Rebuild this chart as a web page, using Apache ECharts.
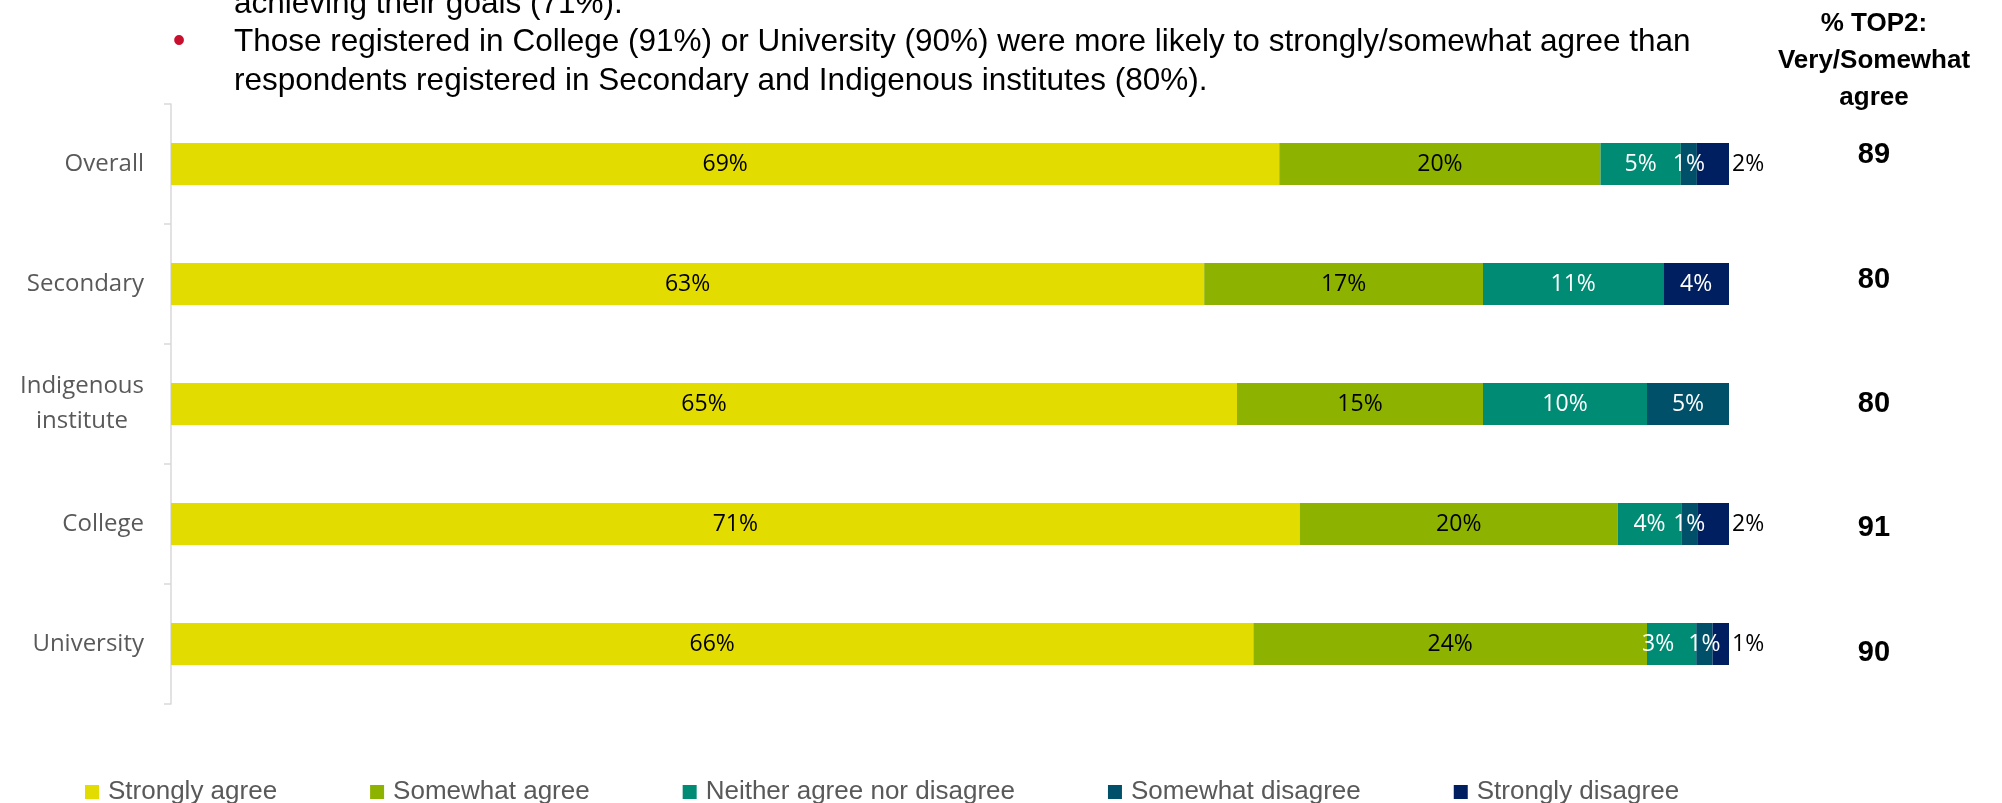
<!DOCTYPE html>
<html>
<head>
<meta charset="utf-8">
<script src="https://cdn.jsdelivr.net/npm/echarts/dist/echarts.min.js"></script>
<style>
  html, body { margin: 0; padding: 0; background: #ffffff; }
  #chart { width: 2002px; height: 803px; }
</style>
</head>
<body>
<div id="chart"></div>
<script>
// ---------------- data ----------------
const categories = ['Overall', 'Secondary', 'Indigenous institute', 'College', 'University'];
const seriesNames = ['Strongly agree', 'Somewhat agree', 'Neither agree nor disagree', 'Somewhat disagree', 'Strongly disagree'];
const stronglyAgree    = [69, 63, 65, 71, 66];
const somewhatAgree    = [20, 17, 15, 20, 24];
const neitherAgree     = [5, 11, 10, 4, 3];
const somewhatDisagree = [1, 0, 5, 1, 1];
const stronglyDisagree = [2, 4, 0, 2, 1];
const top2Values       = [89, 80, 80, 91, 90];
const top2Header = '% TOP2:\nVery/Somewhat\nagree';
const noteLines = [
  'achieving their goals (71%).',
  'Those registered in College (91%) or University (90%) were more likely to strongly/somewhat agree than',
  'respondents registered in Secondary and Indigenous institutes (80%).'
];

// ---------------- styles ----------------
const colors = ['#E3DC00', '#8EB200', '#008B74', '#00506A', '#001F60'];
const labelColors = ['#000000', '#000000', '#ffffff', '#ffffff', '#ffffff'];
const LABEL_FONT = '"Open Sans", "Noto Sans", sans-serif';
const NOTE_FONT = '"Liberation Sans", Arial, sans-serif';

const allSeries = [stronglyAgree, somewhatAgree, neitherAgree, somewhatDisagree, stronglyDisagree];
const rowTotals = categories.map((_, i) => allSeries.reduce((s, arr) => s + arr[i], 0));

const barSeries = allSeries.map((arr, si) => ({
  name: seriesNames[si],
  type: 'bar',
  stack: 'total',
  barWidth: 42,
  xAxisIndex: 0,
  yAxisIndex: 0,
  itemStyle: { color: colors[si] },
  label: {
    show: true,
    position: 'inside',
    fontFamily: LABEL_FONT,
    fontSize: 23,
    color: labelColors[si],
    formatter: p => (p.data.raw > 0 ? p.data.raw + '%' : '')
  },
  data: arr.map((v, i) => {
    const d = { value: v / rowTotals[i] * 100, raw: v };
    if (si === 4 && v > 0 && v <= 2) {
      d.label = { position: 'right', distance: 3, color: '#000000' };
    }
    if (si === 2 && v > 0 && v <= 3) {
      d.label = { position: 'insideLeft', offset: [-10, 0] };
    }
    return d;
  })
}));

const chart = echarts.init(document.getElementById('chart'), null, { renderer: 'canvas' });

chart.setOption({
  animation: false,
  backgroundColor: '#ffffff',
  grid: [
    { left: 171, right: 273, top: 104, height: 600, containLabel: false },
    { left: 1874, width: 10, top: 93, height: 622, containLabel: false }
  ],
  xAxis: [
    { type: 'value', gridIndex: 0, min: 0, max: 100, show: false },
    { type: 'value', gridIndex: 1, min: 0, max: 1, show: false }
  ],
  yAxis: [
    {
      type: 'category',
      gridIndex: 0,
      inverse: true,
      data: categories,
      axisLine: { show: true, lineStyle: { color: '#D9D9D9', width: 1.5 } },
      axisTick: { show: true, length: 7, lineStyle: { color: '#D9D9D9', width: 1.5 } },
      splitLine: { show: false },
      axisLabel: {
        margin: 27,
        color: '#595959',
        fontFamily: LABEL_FONT,
        fontSize: 24,
        lineHeight: 35,
        formatter: v => v.length > 12 ? v.split(' ').map(w => '{c|' + w + '}').join('\n') : v,
        rich: {
          c: { align: 'center', color: '#595959', fontFamily: LABEL_FONT, fontSize: 24, lineHeight: 35 }
        }
      }
    },
    {
      type: 'category',
      gridIndex: 1,
      inverse: true,
      data: top2Values.map(String),
      axisLine: { show: false },
      axisTick: { show: false },
      splitLine: { show: false },
      axisLabel: {
        margin: 0,
        align: 'center',
        color: '#000000',
        fontFamily: NOTE_FONT,
        fontWeight: 'bold',
        fontSize: 29
      }
    }
  ],
  legend: {
    show: true,
    left: 80,
    top: 774,
    icon: 'rect',
    itemWidth: 14,
    itemHeight: 14,
    itemGap: 93,
    selectedMode: false,
    data: seriesNames,
    textStyle: {
      color: '#595959',
      fontFamily: NOTE_FONT,
      fontSize: 26,
      padding: [0, 0, 0, 4]
    }
  },
  graphic: [
    {
      type: 'text', x: 179, y: 42, silent: true,
      style: { text: '\u2022', font: '36px ' + NOTE_FONT, fill: '#C8102E',
               align: 'center', verticalAlign: 'middle', textAlign: 'center', textVerticalAlign: 'middle' }
    },
    ...noteLines.map((t, i) => ({
      type: 'text', x: 234, y: 4 + i * 38.5, silent: true,
      style: { text: t, font: '31.5px ' + NOTE_FONT, fill: '#000000',
               align: 'left', verticalAlign: 'middle', textAlign: 'left', textVerticalAlign: 'middle' }
    })),
    {
      type: 'text', x: 1874, y: 61, silent: true,
      style: { text: top2Header, font: 'bold 26px ' + NOTE_FONT, fill: '#000000', lineHeight: 37,
               align: 'center', verticalAlign: 'middle', textAlign: 'center', textVerticalAlign: 'middle' }
    }
  ],
  series: barSeries
});
</script>
</body>
</html>
